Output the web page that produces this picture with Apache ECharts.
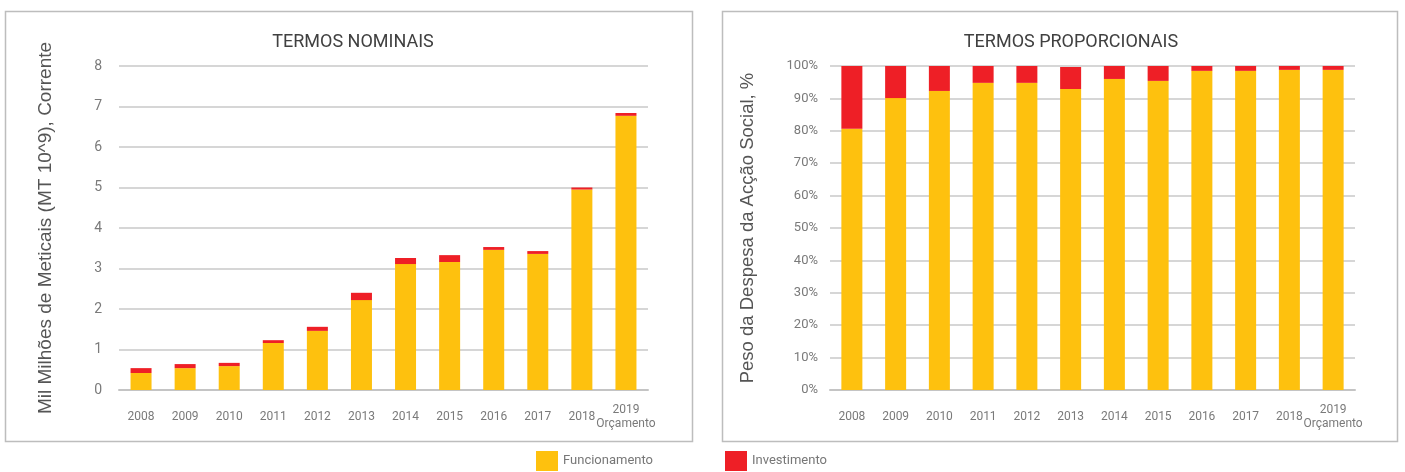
<!DOCTYPE html>
<html>
<head>
<meta charset="utf-8">
<script src="https://cdn.jsdelivr.net/npm/echarts@6/dist/echarts.min.js"></script>
<style>
  html, body { margin: 0; padding: 0; background: #fff; }
  #chart { width: 1405px; height: 472px; }
</style>
</head>
<body>
<div id="chart"></div>
<script>
const years = ['2008', '2009', '2010', '2011', '2012', '2013', '2014', '2015', '2016', '2017', '2018', '2019\nOrçamento'];

// termos nominais, mil milhões MT
const nominalFunc = [0.42, 0.54, 0.59, 1.16, 1.46, 2.22, 3.11, 3.16, 3.46, 3.36, 4.95, 6.77];
const nominalInv = [0.12, 0.10, 0.08, 0.07, 0.10, 0.18, 0.15, 0.17, 0.07, 0.07, 0.05, 0.07];

// termos proporcionais, %
const propFunc = [80.6, 90.1, 92.3, 94.8, 94.8, 92.9, 96.0, 95.4, 98.5, 98.5, 98.8, 98.8];
const propInv = [19.4, 9.9, 7.7, 5.2, 5.2, 6.8, 4.0, 4.6, 1.5, 1.5, 1.2, 1.2];

const yellow = '#FEC10E';
const red = '#EE1F26';
const font = 'Roboto, "Liberation Sans", sans-serif';
const nameFont = '"Liberation Sans", Arial, sans-serif';

const chart = echarts.init(document.getElementById('chart'));

function xAxisFor(i) {
  return {
    type: 'category',
    gridIndex: i,
    data: years,
    axisTick: { show: false },
    axisLine: { lineStyle: { color: '#c4c4c4', width: 2 } },
    axisLabel: {
      interval: 0,
      color: '#7a7a7a',
      fontSize: 12,
      fontFamily: font,
      lineHeight: 14,
      verticalAlign: 'middle',
      margin: 27
    }
  };
}

const option = {
  animation: false,
  title: [
    {
      text: 'TERMOS NOMINAIS',
      left: 353, top: 33, padding: 0, textAlign: 'center',
      textStyle: { fontSize: 18, fontWeight: 'normal', color: '#404040', fontFamily: font }
    },
    {
      text: 'TERMOS PROPORCIONAIS',
      left: 1071, top: 33, padding: 0, textAlign: 'center',
      textStyle: { fontSize: 18, fontWeight: 'normal', color: '#404040', fontFamily: font }
    }
  ],
  graphic: [
    { type: 'rect', shape: { x: 5.5, y: 11.5, width: 687, height: 430 }, style: { fill: 'none', stroke: '#bdbdbd', lineWidth: 1.5 } },
    { type: 'rect', shape: { x: 722.5, y: 11.5, width: 675, height: 430 }, style: { fill: 'none', stroke: '#bdbdbd', lineWidth: 1.5 } }
  ],
  legend: [
    {
      data: ['Funcionamento'], left: 536, top: 451, padding: 0,
      itemWidth: 22, itemHeight: 20, icon: 'rect', selectedMode: false,
      textStyle: { fontSize: 13, color: '#777', fontFamily: font }
    },
    {
      data: ['Investimento'], left: 725, top: 451, padding: 0,
      itemWidth: 22, itemHeight: 20, icon: 'rect', selectedMode: false,
      textStyle: { fontSize: 13, color: '#777', fontFamily: font }
    }
  ],
  grid: [
    { left: 119, right: 757, top: 66, bottom: 82 },
    { left: 830, right: 50, top: 66, bottom: 82 }
  ],
  xAxis: [xAxisFor(0), xAxisFor(1)],
  yAxis: [
    {
      type: 'value', gridIndex: 0, min: 0, max: 8, interval: 1,
      name: 'Mil Milhões de Meticais (MT 10^9), Corrente',
      nameLocation: 'middle', nameGap: 64,
      nameTextStyle: { fontSize: 19, color: '#555', fontFamily: nameFont },
      axisLabel: { color: '#7a7a7a', fontSize: 14, fontFamily: font, margin: 17 },
      splitLine: { lineStyle: { color: '#d6d6d6', width: 2 } }
    },
    {
      type: 'value', gridIndex: 1, min: 0, max: 100, interval: 10,
      name: 'Peso da Despesa da Acção Social, %',
      nameLocation: 'middle', nameGap: 73,
      nameTextStyle: { fontSize: 18.5, color: '#555', fontFamily: nameFont },
      axisLabel: { color: '#7a7a7a', fontSize: 13, fontFamily: font, margin: 12, formatter: '{value}%' },
      splitLine: { lineStyle: { color: '#d6d6d6', width: 2 } }
    }
  ],
  series: [
    { name: 'Funcionamento', type: 'bar', stack: 'nom', xAxisIndex: 0, yAxisIndex: 0, barWidth: 21, itemStyle: { color: yellow }, data: nominalFunc },
    { name: 'Investimento', type: 'bar', stack: 'nom', xAxisIndex: 0, yAxisIndex: 0, barWidth: 21, itemStyle: { color: red }, data: nominalInv },
    { name: 'Funcionamento', type: 'bar', stack: 'prop', xAxisIndex: 1, yAxisIndex: 1, barWidth: 21, itemStyle: { color: yellow }, data: propFunc },
    { name: 'Investimento', type: 'bar', stack: 'prop', xAxisIndex: 1, yAxisIndex: 1, barWidth: 21, itemStyle: { color: red }, data: propInv }
  ]
};

chart.setOption(option);
</script>
</body>
</html>
